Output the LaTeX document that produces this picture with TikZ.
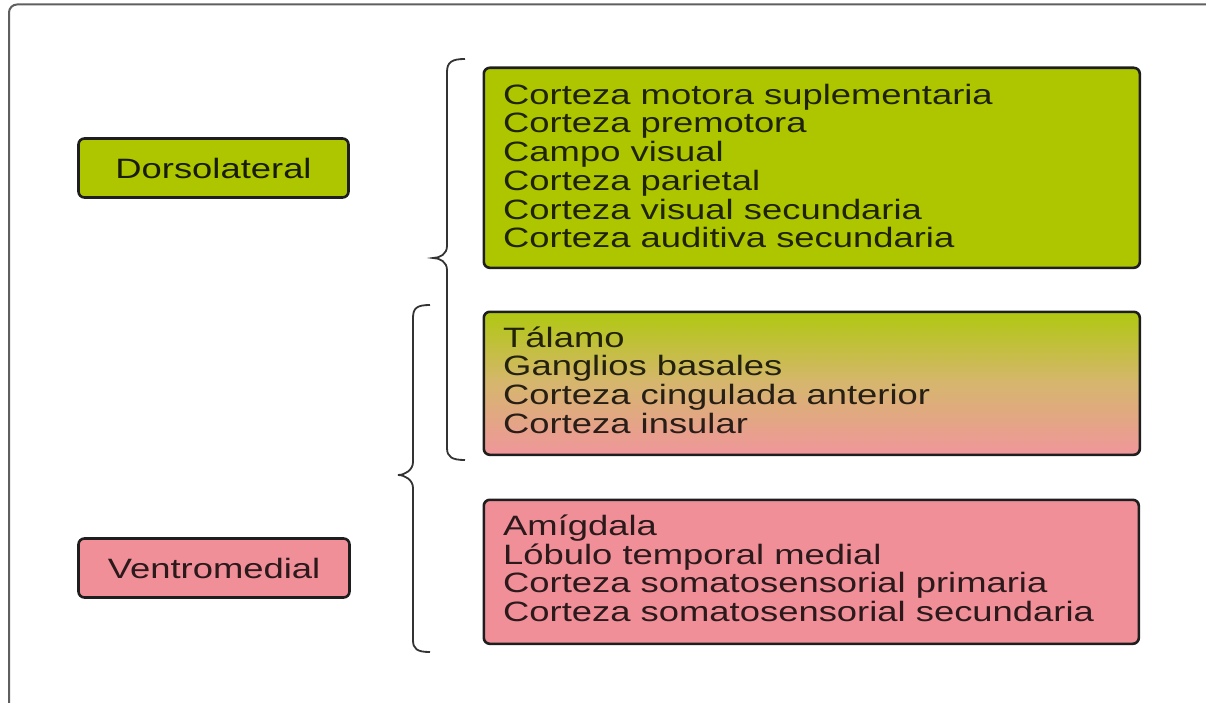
\documentclass[tikz,border=0pt]{standalone}
\usepackage{fontspec}
\setmainfont{Liberation Sans}
\usetikzlibrary{calc}
\definecolor{lime}{RGB}{174,198,0}
\definecolor{limetop}{RGB}{176,200,16}
\definecolor{rose}{RGB}{240,143,152}
\definecolor{rosebot}{RGB}{240,150,155}
\definecolor{framegray}{RGB}{95,95,95}
\definecolor{edgecol}{RGB}{30,30,30}
\tikzset{
  box/.style={draw=edgecol, line width=2.6pt, rounded corners=6pt, inner sep=0pt},
  txt/.style={anchor=base west, inner sep=0pt, text=black, text opacity=0.82},
  bracepath/.style={draw=black!80, line width=1.8pt},
}
\newcommand{\wide}[1]{\scalebox{1.3}[1]{#1}}
\begin{document}
\begin{tikzpicture}[x=1pt,y=-1pt, every node/.style={font=\fontsize{28}{28}\selectfont}]
\useasboundingbox (0,0) rectangle (1206,703);
% outer frame
\draw[draw=framegray, line width=2pt, rounded corners=8pt] (9,706) -- (9,4.5) -- (1210,4.5);

% left labels
\node[box, fill=lime, minimum width=270pt, minimum height=59pt, text=black, text opacity=0.85] (dl) at (213.5,168) {\wide{Dorsolateral}};
\node[box, fill=rose, minimum width=271pt, minimum height=59pt, text=black, text opacity=0.82] (vm) at (214,568) {\wide{Ventromedial}};

% right boxes
\node[box, fill=lime, anchor=north west, minimum width=656pt, minimum height=200pt] (b1) at (482.5,66.5) {};
\node[box, top color=limetop, bottom color=rosebot, middle color={rgb,255:red,214;green,182;blue,110}, anchor=north west, minimum width=656pt, minimum height=143pt] (b2) at (482.5,310.5) {};
\node[box, fill=rose, anchor=north west, minimum width=655pt, minimum height=144pt] (b3) at (482.5,498.5) {};

\node[txt] (b1t) at (503,105) {\wide{\begin{tabular}[t]{@{}l@{}}Corteza motora suplementaria\\Corteza premotora\\Campo visual\\Corteza parietal\\Corteza visual secundaria\\Corteza auditiva secundaria\end{tabular}}};
\node[txt] (b2t) at (503,347) {\wide{\begin{tabular}[t]{@{}l@{}}Tálamo\\Ganglios basales\\Corteza cingulada anterior\\Corteza insular\end{tabular}}};
\node[txt] (b3t) at (503,535) {\wide{\begin{tabular}[t]{@{}l@{}}Amígdala\\Lóbulo temporal medial\\Corteza somatosensorial primaria\\Corteza somatosensorial secundaria\end{tabular}}};

% braces
\draw[bracepath] (465,59) .. controls (452,59) and (447,62) .. (447,72) -- (447,246) .. controls (447,254) and (440,258) .. (433,258) .. controls (440,258) and (447,262) .. (447,270) -- (447,448) .. controls (447,457) and (452,460) .. (465,460);
\draw[bracepath] (430,305) .. controls (417,305) and (413,308) .. (413,318) -- (413,462) .. controls (413,470) and (405,475) .. (398,475) .. controls (405,475) and (413,480) .. (413,488) -- (413,640) .. controls (413,649) and (417,652) .. (430,652);
\end{tikzpicture}
\end{document}
